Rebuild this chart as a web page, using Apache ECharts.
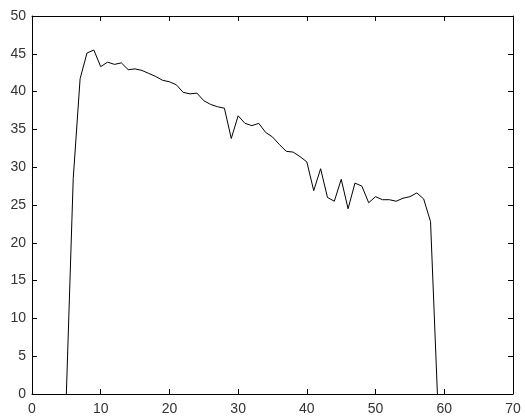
<!DOCTYPE html>
<html>
<head>
<meta charset="utf-8">
<script src="https://cdn.jsdelivr.net/npm/echarts@6/dist/echarts.min.js"></script>
<style>html,body{margin:0;padding:0;background:#fff}#c{width:525px;height:416px}</style>
</head>
<body>
<div id="c"></div>
<script>
var xValues = [5,6,7,8,9,10,11,12,13,14,15,16,17,18,19,20,21,22,23,24,25,26,27,28,29,30,31,32,33,34,35,36,37,38,39,40,41,42,43,44,45,46,47,48,49,50,51,52,53,54,55,56,57,58,59];
var yValues = [0,28.5,41.7,45.1,45.5,43.3,43.9,43.6,43.8,42.9,43.0,42.8,42.4,42.0,41.5,41.3,40.9,39.9,39.7,39.8,38.8,38.3,38.0,37.8,33.8,36.8,35.8,35.5,35.8,34.6,34.0,33.0,32.1,32.0,31.4,30.7,26.9,29.8,26.0,25.5,28.4,24.5,27.9,27.5,25.3,26.1,25.7,25.7,25.5,25.9,26.1,26.6,25.8,22.8,0];
var xRange = [0, 70, 10];
var yRange = [0, 50, 5];

var pts = xValues.map(function (x, i) { return [x, yValues[i]]; });
var lineStyle = {color: '#000', width: 1};
var labelStyle = {color: '#333', fontSize: 14, fontFamily: 'Liberation Sans, Arial, sans-serif'};
function ax(pos, range, showLabel, margin) {
  return {
    type: 'value', position: pos, min: range[0], max: range[1], interval: range[2],
    axisLine: {show: true, onZero: false, lineStyle: lineStyle},
    axisTick: {show: true, inside: true, length: 5, lineStyle: lineStyle},
    splitLine: {show: false},
    axisLabel: showLabel ? Object.assign({show: true, margin: margin}, labelStyle) : {show: false}
  };
}
var chart = echarts.init(document.getElementById('c'), null, {renderer: 'canvas'});
chart.setOption({
  animation: false,
  grid: {left: 32, right: 12, top: 16, bottom: 16, containLabel: false},
  xAxis: [ax('bottom', xRange, true, 8), ax('top', xRange, false)],
  yAxis: [ax('left', yRange, true, 6), ax('right', yRange, false)],
  series: [{
    type: 'line', data: pts, xAxisIndex: 0, yAxisIndex: 0,
    showSymbol: false, symbol: 'none', lineStyle: {color: '#000', width: 1}
  }]
});
</script>
</body>
</html>
